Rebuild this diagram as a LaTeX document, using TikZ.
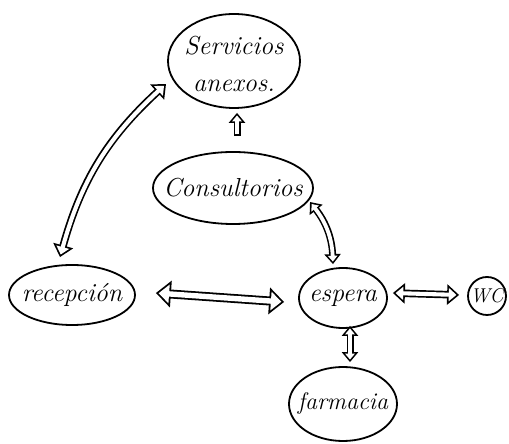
\documentclass[tikz,border=0pt]{standalone}
\usepackage{fontspec}
\usetikzlibrary{shapes.geometric,arrows.meta,calc}
\begin{document}
\begin{tikzpicture}[x=1pt,y=1pt,
  blob/.style={draw,line width=1.8pt,ellipse,inner sep=0pt},
  txt/.style={font=\fontsize{26}{37}\selectfont\itshape,align=center,inner sep=0pt},
  oB/.tip={Triangle[length=15pt,width=26pt]},
  iB/.tip={Triangle[length=10.45pt,width=18.1pt]},
  oM/.tip={Triangle[length=12pt,width=20pt]},
  iM/.tip={Triangle[length=7.64pt,width=12.7pt]},
  oS/.tip={Triangle[length=10pt,width=16pt]},
  iS/.tip={Triangle[length=5.84pt,width=9.34pt]},
  bigdbl/.style={line width=9pt,oB-oB,
    postaction={draw=white,line width=5.4pt,iB-iB,shorten <=2.75pt,shorten >=2.75pt}},
  middbl/.style={line width=7.5pt,oM-oM,
    postaction={draw=white,line width=4.1pt,iM-iM,shorten <=2.66pt,shorten >=2.66pt}},
  smalldbl/.style={line width=7pt,oS-oS,
    postaction={draw=white,line width=3.8pt,iS-iS,shorten <=2.56pt,shorten >=2.56pt}},
  smallsgl/.style={line width=7pt,-oS,
    postaction={draw=white,line width=3.8pt,-iS,shorten <=1.6pt,shorten >=2.56pt}}
]
\useasboundingbox (0,0) rectangle (509,444);
\node[blob,minimum width=132pt,minimum height=94pt,
  label={[txt,yshift=-3pt]center:Servicios\\anexos.}] (serv) at (234,383) {};
\node[blob,minimum width=160pt,minimum height=72pt,
  label={[txt]center:Consultorios}] (cons) at (233,256) {};
\node[blob,minimum width=126pt,minimum height=60pt,
  label={[txt]center:recepción}] (recep) at (72,149) {};
\node[blob,minimum width=88pt,minimum height=60pt,
  label={[txt]center:espera}] (esp) at (343,146) {};
\node[blob,circle,minimum size=38pt,
  label={[txt,font=\fontsize{20}{22}\selectfont\itshape]center:WC}] (wc) at (487,148) {};
\node[blob,minimum width=108pt,minimum height=74pt,
  label={[txt,font=\fontsize{24}{30}\selectfont\itshape]center:farmacia}] (farm) at (343,40) {};

\draw[smallsgl] ($(cons.north)+(4,15)$) -- ($(serv.south)+(3,-4)$);
\draw[middbl] ($(recep.north)+(-12,7)$) to[bend left=16] ($(serv.center)+(-68,-23)$);
\draw[smalldbl] ($(cons.center)+(77,-14)$) to[bend left=18] ($(esp.north)+(-10,3)$);
\draw[bigdbl] ($(recep.east)+(20,2)$) -- ($(esp.west)+(-14,-4)$);
\draw[middbl] ($(esp.east)+(5,5)$) -- ($(wc.west)+(-8,1)$);
\draw[smalldbl] ($(esp.south)+(7,3)$) -- ($(farm.north)+(7,4)$);
\end{tikzpicture}
\end{document}
